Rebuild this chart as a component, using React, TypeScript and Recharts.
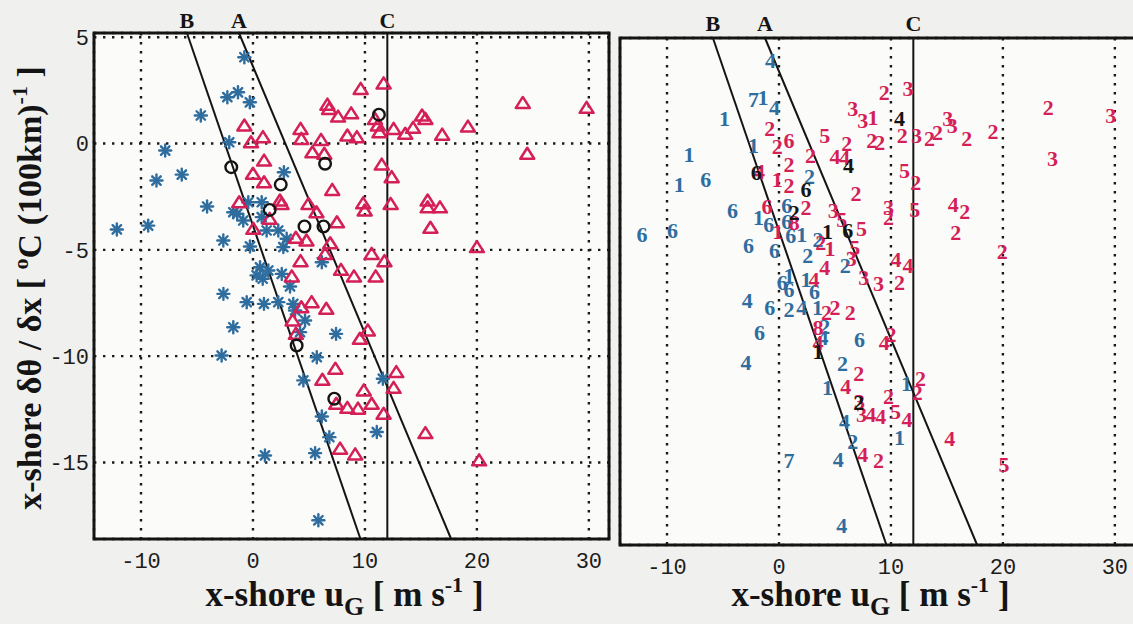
import React from 'react';
import {
  ScatterChart,
  Scatter,
  XAxis,
  YAxis,
  CartesianGrid,
  ReferenceLine,
  ReferenceDot,
  ReferenceArea,
} from 'recharts';

// ---------- axes ----------
const X_DOMAIN: [number, number] = [-14.2, 31.8];
const Y_DOMAIN: [number, number] = [-18.6, 5.2];
const X_TICKS = [-10, 0, 10, 20, 30];
const Y_TICKS = [5, 0, -5, -10, -15];

const BLUE = '#2f6d9e';
const RED = '#d41f57';
const BLACK = '#141414';
const FONT = "'Liberation Serif', 'DejaVu Serif', serif";
const MONO = "'Liberation Mono', 'DejaVu Sans Mono', monospace";

// ---------- reference lines (u, y) ----------
const lineB = [{ u: -5.9, y: 5.2 }, { u: 9.6, y: -18.6 }];
const lineA = [{ u: -1.25, y: 5.2 }, { u: 17.7, y: -18.6 }];
const lineC = [{ u: 12, y: 5.2 }, { u: 12, y: -18.6 }];
const lineNames = ['B', 'A', 'C'];

// ---------- left panel ----------
const leftStars = [
  [-0.77, 4.06], [-2.29, 2.18], [-1.34, 2.41], [-0.28, 1.94], [-4.66, 1.32], [-2.12, 0.06],
  [-7.84, -0.33], [-6.36, -1.46], [-8.62, -1.74], [-4.1, -2.96], [-9.36, -3.86], [-12.16, -4.04],
  [-2.65, -4.56], [2.76, -1.35], [-0.42, -2.76], [0.78, -2.76], [-1.76, -3.23], [-0.87, -3.62],
  [0.78, -3.46], [1.22, -4.09], [2.26, -4.09], [-0.27, -4.84], [2.71, -4.87], [3.01, -4.48],
  [6.15, -5.58], [0.63, -5.82], [1.37, -5.97], [0.33, -6.2], [0.87, -6.36], [2.57, -6.13],
  [3.31, -6.72], [-2.64, -7.07], [-0.56, -7.46], [0.98, -7.54], [2.26, -7.46], [3.6, -7.54],
  [4.65, -8.32], [-1.76, -8.64], [4.2, -8.87], [7.42, -8.95], [-2.8, -9.97], [5.7, -10.05],
  [3.76, -7.85], [4.5, -11.14], [11.6, -11.06], [6.15, -12.84], [6.82, -13.81], [11.06, -13.57],
  [1.07, -14.67], [5.55, -14.56], [5.84, -17.72], [-1.41, -3.3],
];
const leftTriangles = [
  [11.67, 2.83], [9.62, 2.57], [6.65, 1.83], [6.8, 1.63], [7.6, 1.27], [8.77, 1.42], [10.9, 1.16],
  [11.15, 0.85], [11.3, 0.53], [12.56, 0.69], [13.6, 0.46], [14.3, 0.74], [15.1, 1.32], [15.4, 1.16],
  [16.9, 0.42], [19.2, 0.8], [24.1, 1.91], [29.8, 1.68], [24.5, -0.48], [-0.77, 0.85], [-0.18, 0.06],
  [0.89, 0.3], [4.25, 0.69], [4.32, 0.22], [6.08, 0.17], [5.31, -0.41], [6.37, -0.48], [8.43, 0.38],
  [9.28, 0.3], [11.5, -0.99], [12.39, -1.58], [0.99, -0.8], [0, -1.42], [0.99, -1.82], [7.08, -2.18],
  [-1.23, -2.76], [2.41, -2.68], [2.55, -2.84], [4.96, -2.84], [5.67, -3.23], [9.84, -2.81],
  [9.98, -3.15], [12.3, -2.84], [15.6, -2.68], [15.6, -3.0], [16.7, -3.0], [15.85, -3.96],
  [1.49, -3.54], [7.5, -3.7], [20.0, -4.87], [3.83, -4.43], [4.78, -4.56], [6.9, -4.69],
  [6.44, -5.19], [10.6, -5.19], [11.74, -5.53], [4.25, -5.53], [7.86, -5.94], [9.02, -6.25],
  [10.96, -6.25], [3.47, -6.25], [5.24, -7.46], [6.55, -7.77], [4.32, -7.7], [3.54, -8.32],
  [3.83, -8.95], [10.26, -8.79], [9.55, -9.18], [7.36, -10.59], [6.2, -11.11], [12.8, -10.75],
  [12.56, -11.49], [9.9, -11.61], [7.44, -12.24], [8.43, -12.43], [9.38, -12.47], [10.6, -12.24],
  [11.67, -12.71], [15.4, -13.62], [7.78, -14.35], [9.13, -14.62], [20.2, -14.9], [0.03, -4.01],
];
const leftCircles = [
  [11.25, 1.36], [6.44, -0.95], [-1.94, -1.11], [2.48, -1.93], [1.49, -3.12], [4.6, -3.9],
  [6.3, -3.9], [3.9, -9.5], [7.26, -12.0],
];

// ---------- right panel (u, y, digit) ----------
const rightBlue: [number, number, string][] = [
  [-0.76, 4.14, '4'], [-2.28, 2.29, '7'], [-1.43, 2.41, '1'], [-0.4, 1.94, '4'], [-4.87, 1.4, '1'],
  [-2.28, 0.14, '1'], [-8.04, -0.28, '1'], [-8.9, -1.69, '1'], [-6.53, -1.43, '6'], [-4.16, -2.88, '6'],
  [-12.23, -4.01, '6'], [-9.5, -3.82, '6'], [-2.73, -4.56, '6'], [-1.83, -3.23, '1'], [-0.91, -3.54, '6'],
  [-0.4, -4.76, '6'], [0.7, -2.68, '6'], [0.7, -3.42, '6'], [1.05, -4.09, '6'], [2.03, -4.01, '1'],
  [2.72, -1.32, '2'], [3.48, -4.25, '2'], [2.57, -5.03, '2'], [5.91, -5.5, '2'], [0.9, -5.97, '1'],
  [0.3, -6.29, '6'], [2.42, -6.13, '1'], [0.9, -6.6, '6'], [3.17, -6.68, '6'], [-2.83, -7.11, '4'],
  [-0.82, -7.43, '6'], [0.9, -7.54, '2'], [2.03, -7.43, '4'], [3.43, -7.43, '1'], [-1.73, -8.64, '6'],
  [4.09, -8.32, '2'], [3.94, -8.87, '4'], [7.19, -8.95, '6'], [-2.95, -10.05, '4'], [5.67, -10.09, '2'],
  [4.33, -11.19, '1'], [11.4, -11.03, '1'], [5.85, -12.82, '4'], [6.58, -13.73, '2'], [10.77, -13.57, '1'],
  [0.9, -14.64, '7'], [5.3, -14.59, '4'], [5.6, -17.68, '4'],
];
const rightBlack: [number, number, string][] = [
  [10.77, 1.4, '4'], [6.21, -0.8, '4'], [-2.04, -1.11, '6'], [2.42, -1.9, '6'], [1.36, -3.0, '2'],
  [4.33, -3.86, '1'], [6.15, -3.82, '6'], [7.13, -11.93, '2'], [3.48, -9.5, '1'],
];
const rightRed: [number, number, string][] = [
  [9.4, 2.65, '2'], [11.53, 2.81, '3'], [6.58, 1.87, '3'], [7.49, 1.32, '3'], [8.4, 1.47, '1'],
  [-0.82, 0.93, '2'], [-0.15, 0.09, '2'], [0.9, 0.41, '6'], [4.09, 0.61, '5'], [6.06, 0.25, '2'],
  [5.0, -0.38, '4'], [5.85, -0.41, '4'], [8.28, 0.41, '2'], [9.01, 0.3, '2'], [11.0, 0.61, '2'],
  [12.29, 0.61, '3'], [13.44, 0.46, '2'], [14.17, 0.77, '2'], [15.08, 1.4, '3'], [15.47, 1.08, '3'],
  [16.78, 0.5, '2'], [19.12, 0.81, '2'], [24.06, 1.94, '2'], [29.64, 1.55, '3'], [24.43, -0.48, '3'],
  [2.81, -0.33, '2'], [0.9, -0.75, '2'], [-0.15, -1.42, '1'], [0.9, -1.74, '2'], [-1.73, -1.07, '4'],
  [6.88, -2.1, '2'], [11.22, -1.03, '5'], [12.22, -1.58, '2'], [9.79, -2.76, '3'], [9.79, -3.23, '2'],
  [12.13, -2.83, '5'], [15.56, -2.63, '4'], [16.6, -2.95, '2'], [15.78, -3.93, '2'], [19.94, -4.83, '2'],
  [2.42, -2.76, '2'], [-1.06, -2.73, '6'], [1.36, -3.46, '8'], [4.85, -2.88, '3'], [5.6, -3.31, '5'],
  [7.37, -3.73, '5'], [-0.1, -3.86, '1'], [3.73, -4.41, '2'], [4.55, -4.67, '1'], [6.76, -4.64, '5'],
  [6.46, -5.14, '3'], [4.09, -5.55, '4'], [10.46, -5.19, '4'], [11.53, -5.5, '4'], [7.58, -6.05, '3'],
  [8.88, -6.33, '3'], [10.77, -6.29, '2'], [3.13, -6.13, '4'], [4.24, -7.7, '2'], [5.0, -7.43, '2'],
  [6.37, -7.7, '2'], [3.48, -8.4, '8'], [3.48, -9.1, '4'], [9.4, -9.1, '4'], [10.0, -8.71, '2'],
  [7.13, -10.56, '2'], [5.97, -11.14, '4'], [12.65, -10.78, '2'], [12.35, -11.46, '2'], [9.79, -11.61, '2'],
  [7.19, -11.85, '3'], [7.37, -12.48, '3'], [8.19, -12.48, '4'], [9.1, -12.55, '4'], [10.4, -12.32, '5'],
  [11.44, -12.71, '4'], [15.26, -13.6, '4'], [7.49, -14.35, '4'], [8.88, -14.64, '2'], [20.1, -14.82, '5'],
];

const toPts = (arr: number[][]) => arr.map(([u, y]) => ({ u, y }));
const toDigits = (arr: [number, number, string][]) => arr.map(([u, y, n]) => ({ u, y, n }));

// ---------- shapes ----------
const Star = (p: any) => {
  const { cx, cy } = p;
  if (cx == null || cy == null) return <g />;
  const r = 6;
  const d = r * 0.7071;
  return (
    <g stroke={BLUE} strokeWidth={2.4} strokeLinecap="round">
      <line x1={cx - r} y1={cy} x2={cx + r} y2={cy} />
      <line x1={cx} y1={cy - r} x2={cx} y2={cy + r} />
      <line x1={cx - d} y1={cy - d} x2={cx + d} y2={cy + d} />
      <line x1={cx - d} y1={cy + d} x2={cx + d} y2={cy - d} />
    </g>
  );
};
const Tri = (p: any) => {
  const { cx, cy } = p;
  if (cx == null || cy == null) return <g />;
  return (
    <polygon
      points={`${cx},${cy - 6} ${cx + 7},${cy + 5} ${cx - 7},${cy + 5}`}
      fill="none"
      stroke={RED}
      strokeWidth={2.5}
      strokeLinejoin="round"
    />
  );
};
const Circ = (p: any) => {
  const { cx, cy } = p;
  if (cx == null || cy == null) return <g />;
  return <circle cx={cx} cy={cy} r={5.8} fill="none" stroke={BLACK} strokeWidth={2.4} />;
};
const makeDigit = (color: string) => (p: any) => {
  const { cx, cy, payload } = p;
  if (cx == null || cy == null) return <g />;
  return (
    <text
      x={cx}
      y={cy}
      textAnchor="middle"
      dominantBaseline="central"
      fontSize={22}
      fontWeight="bold"
      fontFamily={FONT}
      fill={color}
    >
      {payload.n}
    </text>
  );
};
const BlueDigit = makeDigit(BLUE);
const RedDigit = makeDigit(RED);
const BlackDigit = makeDigit(BLACK);

const XTitle = (p: any) => {
  const vb = p.viewBox || { x: 0, width: 0 };
  const cx = vb.x + vb.width / 2 - 7;
  return (
    <text x={cx} y={606} textAnchor="middle" fontSize={35} fontWeight="bold" fontFamily={FONT} fill={BLACK}>
      x-shore u
      <tspan dy={9} fontSize={26}>G</tspan>
      <tspan dy={-9}>{' [ m s'}</tspan>
      <tspan dy={-14} fontSize={22}>-1</tspan>
      <tspan dy={14}>{' ]'}</tspan>
    </text>
  );
};

const YTitle = () => {
  const x = 41;
  const y = 288;
  return (
    <text
      x={x}
      y={y}
      transform={`rotate(-90, ${x}, ${y})`}
      textAnchor="middle"
      fontSize={34}
      fontWeight="bold"
      fontFamily={FONT}
      fill={BLACK}
    >
      {'x-shore δθ / δx [ '}
      <tspan dy={-13} fontSize={22}>o</tspan>
      <tspan dy={13}>{'C (100km)'}</tspan>
      <tspan dy={-14} fontSize={22}>-1</tspan>
      <tspan dy={14}>{' ]'}</tspan>
    </text>
  );
};

const tickStyle = { fill: '#1c1c1c', fontSize: 22, fontWeight: 'normal', fontFamily: MONO } as any;

const Lines = (labelOffset: number) => {
  const lines = [lineB, lineA, lineC];
  return lines.map((ln, i) => [
    <ReferenceLine
      key={`l${i}`}
      segment={ln.map((p) => ({ x: p.u, y: p.y }))}
      stroke={BLACK}
      strokeWidth={2}
      ifOverflow="visible"
    />,
    <ReferenceDot
      key={`d${i}`}
      x={ln[0].u}
      y={ln[0].y}
      r={0.1}
      fill="none"
      stroke="none"
      ifOverflow="visible"
      label={{
        value: lineNames[i],
        position: 'top',
        offset: labelOffset,
        fill: BLACK,
        fontSize: 22,
        fontWeight: 'bold',
        fontFamily: FONT,
      }}
    />,
  ]);
};

const Frame = () => (
  <ReferenceArea
    x1={X_DOMAIN[0]}
    x2={X_DOMAIN[1]}
    y1={Y_DOMAIN[0]}
    y2={Y_DOMAIN[1]}
    fill="none"
    stroke={BLACK}
    strokeWidth={3}
    ifOverflow="visible"
  />
);

export default function App() {
  return (
    <div
      style={{
        position: 'absolute',
        left: 0,
        top: 0,
        width: 1133,
        height: 624,
        overflow: 'hidden',
        background: '#f0f0ee',
      }}
    >
      <div style={{ position: 'absolute', left: 0, top: 0 }}>
        <ScatterChart width={620} height={624} margin={{ top: 33, right: 11, bottom: 45, left: 0 }}>
          <CartesianGrid
            stroke="#1a1a1a"
            strokeWidth={2.4}
            strokeDasharray="2.4 6.6"
            fill="#fbfbfa"
            fillOpacity={1}
          />
          <XAxis
            dataKey="u"
            type="number"
            domain={X_DOMAIN}
            ticks={X_TICKS}
            allowDataOverflow
            axisLine={false}
            tickLine={false}
            tickSize={0}
            tickMargin={13}
            height={40}
            tick={tickStyle}
            label={<XTitle />}
          />
          <YAxis
            dataKey="y"
            type="number"
            domain={Y_DOMAIN}
            ticks={Y_TICKS}
            allowDataOverflow
            axisLine={false}
            tickLine={false}
            tickSize={0}
            tickMargin={5}
            width={94}
            tick={tickStyle}
            label={<YTitle />}
          />
          <Scatter data={toPts(leftStars)} shape={Star} isAnimationActive={false} />
          <Scatter data={toPts(leftTriangles)} shape={Tri} isAnimationActive={false} />
          <Scatter data={toPts(leftCircles)} shape={Circ} isAnimationActive={false} />
          {Lines(5)}
          {Frame()}
        </ScatterChart>
      </div>
      <div style={{ position: 'absolute', left: 600, top: 0 }}>
        <ScatterChart width={550} height={624} margin={{ top: 38, right: 15, bottom: 39, left: 0 }}>
          <CartesianGrid
            stroke="#1a1a1a"
            strokeWidth={2.4}
            strokeDasharray="2.4 6.6"
            fill="#fbfbfa"
            fillOpacity={1}
          />
          <XAxis
            dataKey="u"
            type="number"
            domain={X_DOMAIN}
            ticks={X_TICKS}
            allowDataOverflow
            axisLine={false}
            tickLine={false}
            tickSize={0}
            tickMargin={13}
            height={40}
            tick={tickStyle}
            label={<XTitle />}
          />
          <YAxis
            dataKey="y"
            type="number"
            domain={Y_DOMAIN}
            ticks={Y_TICKS}
            allowDataOverflow
            axisLine={false}
            tickLine={false}
            tick={false}
            width={20}
          />
          <Scatter data={toDigits(rightBlue)} shape={BlueDigit} isAnimationActive={false} />
          <Scatter data={toDigits(rightRed)} shape={RedDigit} isAnimationActive={false} />
          <Scatter data={toDigits(rightBlack)} shape={BlackDigit} isAnimationActive={false} />
          {Lines(7)}
          {Frame()}
        </ScatterChart>
      </div>
    </div>
  );
}
